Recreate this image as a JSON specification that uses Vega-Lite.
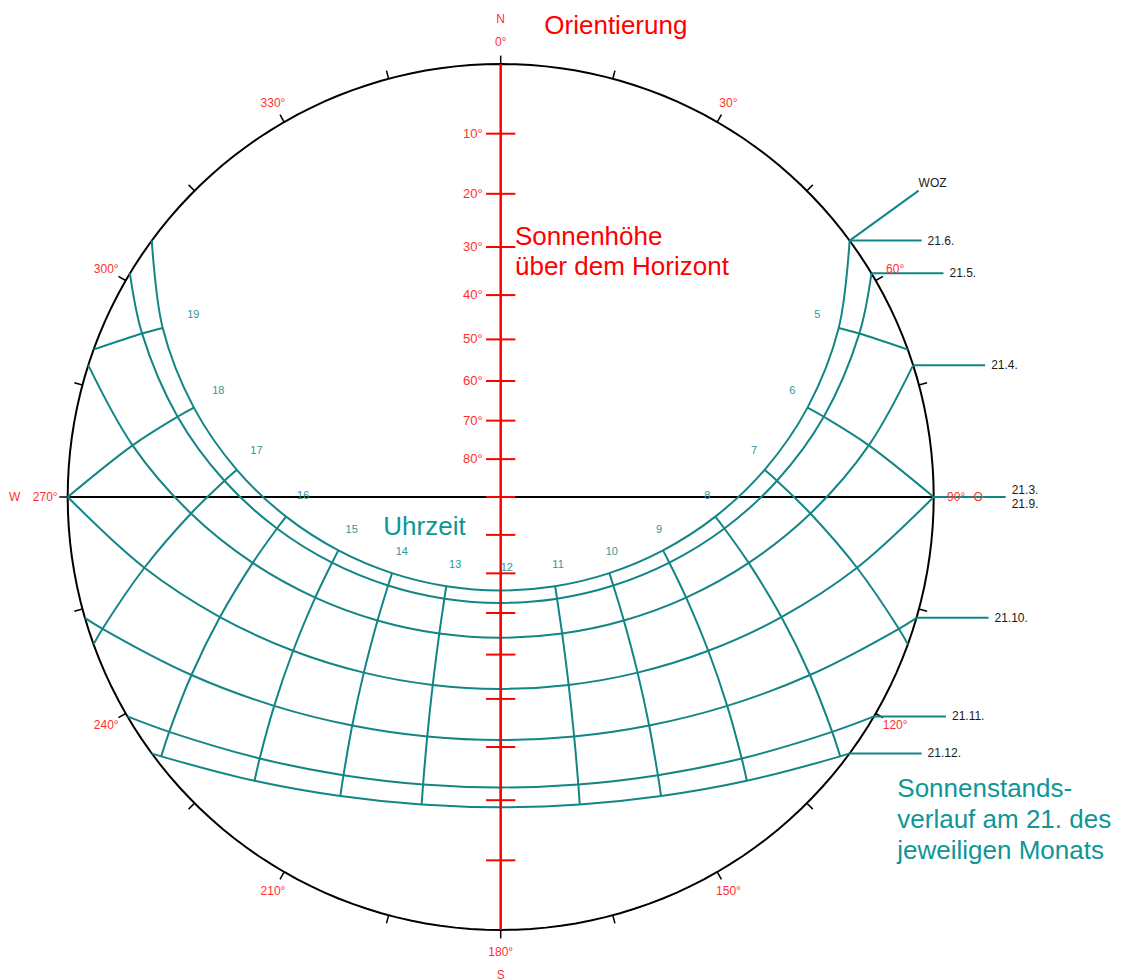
{
  "$schema": "https://vega.github.io/schema/vega-lite/v6.json",
  "width": 1121,
  "height": 979,
  "padding": 0,
  "autosize": "none",
  "background": "white",
  "config": {"view": {"stroke": null}, "font": "Liberation Sans"},
  "projection": {"type": "stereographic", "scale": 433, "translate": [500.7, 497], "rotate": [180, -90, 0], "reflectX": true, "clipAngle": 90},
  "datasets": {
    "sun": [
      {"date": "21.6.", "dec": 23.44, "hour": 4.1, "az": 53.69, "alt": 0},
      {"date": "21.6.", "dec": 23.44, "hour": 5, "az": 63.43, "alt": 7.77},
      {"date": "21.6.", "dec": 23.44, "hour": 6, "az": 73.76, "alt": 17.14},
      {"date": "21.6.", "dec": 23.44, "hour": 7, "az": 84.12, "alt": 27.01},
      {"date": "21.6.", "dec": 23.44, "hour": 8, "az": 95.23, "alt": 37.08},
      {"date": "21.6.", "dec": 23.44, "hour": 9, "az": 108.21, "alt": 46.93},
      {"date": "21.6.", "dec": 23.44, "hour": 10, "az": 125.02, "alt": 55.93},
      {"date": "21.6.", "dec": 23.44, "hour": 11, "az": 148.62, "alt": 62.87},
      {"date": "21.6.", "dec": 23.44, "hour": 12, "az": 180, "alt": 65.64},
      {"date": "21.6.", "dec": 23.44, "hour": 13, "az": 211.38, "alt": 62.87},
      {"date": "21.6.", "dec": 23.44, "hour": 14, "az": 234.98, "alt": 55.93},
      {"date": "21.6.", "dec": 23.44, "hour": 15, "az": 251.79, "alt": 46.93},
      {"date": "21.6.", "dec": 23.44, "hour": 16, "az": 264.77, "alt": 37.08},
      {"date": "21.6.", "dec": 23.44, "hour": 17, "az": 275.88, "alt": 27.01},
      {"date": "21.6.", "dec": 23.44, "hour": 18, "az": 286.24, "alt": 17.14},
      {"date": "21.6.", "dec": 23.44, "hour": 19, "az": 296.57, "alt": 7.77},
      {"date": "21.6.", "dec": 23.44, "hour": 19.9, "az": 306.31, "alt": 0},
      {"date": "21.5.", "dec": 20.3, "hour": 4.4, "az": 58.9, "alt": 0},
      {"date": "21.5.", "dec": 20.3, "hour": 5, "az": 65.5, "alt": 5.39},
      {"date": "21.5.", "dec": 20.3, "hour": 6, "az": 76.05, "alt": 14.89},
      {"date": "21.5.", "dec": 20.3, "hour": 7, "az": 86.64, "alt": 24.83},
      {"date": "21.5.", "dec": 20.3, "hour": 8, "az": 98.02, "alt": 34.89},
      {"date": "21.5.", "dec": 20.3, "hour": 9, "az": 111.28, "alt": 44.63},
      {"date": "21.5.", "dec": 20.3, "hour": 10, "az": 128.18, "alt": 53.38},
      {"date": "21.5.", "dec": 20.3, "hour": 11, "az": 151.01, "alt": 59.93},
      {"date": "21.5.", "dec": 20.3, "hour": 12, "az": 180, "alt": 62.51},
      {"date": "21.5.", "dec": 20.3, "hour": 13, "az": 208.99, "alt": 59.93},
      {"date": "21.5.", "dec": 20.3, "hour": 14, "az": 231.82, "alt": 53.38},
      {"date": "21.5.", "dec": 20.3, "hour": 15, "az": 248.72, "alt": 44.63},
      {"date": "21.5.", "dec": 20.3, "hour": 16, "az": 261.98, "alt": 34.89},
      {"date": "21.5.", "dec": 20.3, "hour": 17, "az": 273.36, "alt": 24.83},
      {"date": "21.5.", "dec": 20.3, "hour": 18, "az": 283.95, "alt": 14.89},
      {"date": "21.5.", "dec": 20.3, "hour": 19, "az": 294.5, "alt": 5.39},
      {"date": "21.5.", "dec": 20.3, "hour": 19.6, "az": 301.1, "alt": 0},
      {"date": "21.4.", "dec": 11.8, "hour": 5.11, "az": 72.27, "alt": 0},
      {"date": "21.4.", "dec": 11.8, "hour": 6, "az": 82.01, "alt": 8.71},
      {"date": "21.4.", "dec": 11.8, "hour": 7, "az": 93.05, "alt": 18.77},
      {"date": "21.4.", "dec": 11.8, "hour": 8, "az": 104.88, "alt": 28.7},
      {"date": "21.4.", "dec": 11.8, "hour": 9, "az": 118.47, "alt": 38.05},
      {"date": "21.4.", "dec": 11.8, "hour": 10, "az": 135.07, "alt": 46.13},
      {"date": "21.4.", "dec": 11.8, "hour": 11, "az": 155.78, "alt": 51.87},
      {"date": "21.4.", "dec": 11.8, "hour": 12, "az": 180, "alt": 54.0},
      {"date": "21.4.", "dec": 11.8, "hour": 13, "az": 204.22, "alt": 51.87},
      {"date": "21.4.", "dec": 11.8, "hour": 14, "az": 224.93, "alt": 46.13},
      {"date": "21.4.", "dec": 11.8, "hour": 15, "az": 241.53, "alt": 38.05},
      {"date": "21.4.", "dec": 11.8, "hour": 16, "az": 255.12, "alt": 28.7},
      {"date": "21.4.", "dec": 11.8, "hour": 17, "az": 266.95, "alt": 18.77},
      {"date": "21.4.", "dec": 11.8, "hour": 18, "az": 277.99, "alt": 8.71},
      {"date": "21.4.", "dec": 11.8, "hour": 18.89, "az": 287.73, "alt": 0},
      {"date": "21.3.", "dec": 0, "hour": 6, "az": 90, "alt": 0},
      {"date": "21.3.", "dec": 0, "hour": 7, "az": 101.23, "alt": 10.01},
      {"date": "21.3.", "dec": 0, "hour": 8, "az": 113.16, "alt": 19.62},
      {"date": "21.3.", "dec": 0, "hour": 9, "az": 126.53, "alt": 28.36},
      {"date": "21.3.", "dec": 0, "hour": 10, "az": 142.07, "alt": 35.57},
      {"date": "21.3.", "dec": 0, "hour": 11, "az": 160.12, "alt": 40.45},
      {"date": "21.3.", "dec": 0, "hour": 12, "az": 180, "alt": 42.2},
      {"date": "21.3.", "dec": 0, "hour": 13, "az": 199.88, "alt": 40.45},
      {"date": "21.3.", "dec": 0, "hour": 14, "az": 217.93, "alt": 35.57},
      {"date": "21.3.", "dec": 0, "hour": 15, "az": 233.47, "alt": 28.36},
      {"date": "21.3.", "dec": 0, "hour": 16, "az": 246.84, "alt": 19.62},
      {"date": "21.3.", "dec": 0, "hour": 17, "az": 258.77, "alt": 10.01},
      {"date": "21.3.", "dec": 0, "hour": 18, "az": 270, "alt": 0},
      {"date": "21.10.", "dec": -10.8, "hour": 6.81, "az": 106.2, "alt": 0},
      {"date": "21.10.", "dec": -10.8, "hour": 7, "az": 108.32, "alt": 1.83},
      {"date": "21.10.", "dec": -10.8, "hour": 8, "az": 119.93, "alt": 11.02},
      {"date": "21.10.", "dec": -10.8, "hour": 9, "az": 132.68, "alt": 19.13},
      {"date": "21.10.", "dec": -10.8, "hour": 10, "az": 146.99, "alt": 25.63},
      {"date": "21.10.", "dec": -10.8, "hour": 11, "az": 162.95, "alt": 29.9},
      {"date": "21.10.", "dec": -10.8, "hour": 12, "az": 180, "alt": 31.4},
      {"date": "21.10.", "dec": -10.8, "hour": 13, "az": 197.05, "alt": 29.9},
      {"date": "21.10.", "dec": -10.8, "hour": 14, "az": 213.01, "alt": 25.63},
      {"date": "21.10.", "dec": -10.8, "hour": 15, "az": 227.32, "alt": 19.13},
      {"date": "21.10.", "dec": -10.8, "hour": 16, "az": 240.07, "alt": 11.02},
      {"date": "21.10.", "dec": -10.8, "hour": 17, "az": 251.68, "alt": 1.83},
      {"date": "21.10.", "dec": -10.8, "hour": 17.19, "az": 253.8, "alt": 0},
      {"date": "21.11.", "dec": -19.9, "hour": 7.57, "az": 120.45, "alt": 0},
      {"date": "21.11.", "dec": -19.9, "hour": 8, "az": 125.32, "alt": 3.65},
      {"date": "21.11.", "dec": -19.9, "hour": 9, "az": 137.33, "alt": 11.21},
      {"date": "21.11.", "dec": -19.9, "hour": 10, "az": 150.53, "alt": 17.15},
      {"date": "21.11.", "dec": -19.9, "hour": 11, "az": 164.89, "alt": 20.97},
      {"date": "21.11.", "dec": -19.9, "hour": 12, "az": 180, "alt": 22.3},
      {"date": "21.11.", "dec": -19.9, "hour": 13, "az": 195.11, "alt": 20.97},
      {"date": "21.11.", "dec": -19.9, "hour": 14, "az": 209.47, "alt": 17.15},
      {"date": "21.11.", "dec": -19.9, "hour": 15, "az": 222.67, "alt": 11.21},
      {"date": "21.11.", "dec": -19.9, "hour": 16, "az": 234.68, "alt": 3.65},
      {"date": "21.11.", "dec": -19.9, "hour": 16.43, "az": 239.55, "alt": 0},
      {"date": "21.12.", "dec": -23.44, "hour": 7.9, "az": 126.31, "alt": 0},
      {"date": "21.12.", "dec": -23.44, "hour": 8, "az": 127.38, "alt": 0.77},
      {"date": "21.12.", "dec": -23.44, "hour": 9, "az": 139.06, "alt": 8.11},
      {"date": "21.12.", "dec": -23.44, "hour": 10, "az": 151.8, "alt": 13.83},
      {"date": "21.12.", "dec": -23.44, "hour": 11, "az": 165.58, "alt": 17.49},
      {"date": "21.12.", "dec": -23.44, "hour": 12, "az": 180, "alt": 18.76},
      {"date": "21.12.", "dec": -23.44, "hour": 13, "az": 194.42, "alt": 17.49},
      {"date": "21.12.", "dec": -23.44, "hour": 14, "az": 208.2, "alt": 13.83},
      {"date": "21.12.", "dec": -23.44, "hour": 15, "az": 220.94, "alt": 8.11},
      {"date": "21.12.", "dec": -23.44, "hour": 16, "az": 232.62, "alt": 0.77},
      {"date": "21.12.", "dec": -23.44, "hour": 16.1, "az": 233.69, "alt": 0},
      {"dec": 13.21, "hour": 5, "az": 70.1, "alt": 0},
      {"dec": 13.21, "hour": 19, "az": 289.9, "alt": 0},
      {"dec": -13.21, "hour": 7, "az": 109.9, "alt": 0},
      {"dec": -13.21, "hour": 17, "az": 250.1, "alt": 0}
    ],
    "azticks": [
      {"az": 0}, {"az": 15}, {"az": 30}, {"az": 45}, {"az": 60}, {"az": 75}, {"az": 90}, {"az": 105},
      {"az": 120}, {"az": 135}, {"az": 150}, {"az": 165}, {"az": 180}, {"az": 195}, {"az": 210}, {"az": 225},
      {"az": 240}, {"az": 255}, {"az": 270}, {"az": 285}, {"az": 300}, {"az": 315}, {"az": 330}, {"az": 345}
    ],
    "azlabels": [
      {"az": 0, "label": "0°"}, {"az": 30, "label": "30°"}, {"az": 60, "label": "60°"}, {"az": 90, "label": "90°"},
      {"az": 120, "label": "120°"}, {"az": 150, "label": "150°"}, {"az": 180, "label": "180°"}, {"az": 210, "label": "210°"},
      {"az": 240, "label": "240°"}, {"az": 270, "label": "270°"}, {"az": 300, "label": "300°"}, {"az": 330, "label": "330°"}
    ],
    "compass": [
      {"az": 0, "label": "N"}, {"az": 90, "label": "O"}, {"az": 180, "label": "S"}, {"az": 270, "label": "W"}
    ],
    "altticks": [
      {"az": 0, "alt": 10, "label": "10°"}, {"az": 0, "alt": 20, "label": "20°"}, {"az": 0, "alt": 30, "label": "30°"},
      {"az": 0, "alt": 40, "label": "40°"}, {"az": 0, "alt": 50, "label": "50°"}, {"az": 0, "alt": 60, "label": "60°"},
      {"az": 0, "alt": 70, "label": "70°"}, {"az": 0, "alt": 80, "label": "80°"}, {"az": 0, "alt": 90},
      {"az": 180, "alt": 10}, {"az": 180, "alt": 20}, {"az": 180, "alt": 30}, {"az": 180, "alt": 40},
      {"az": 180, "alt": 50}, {"az": 180, "alt": 60}, {"az": 180, "alt": 70}, {"az": 180, "alt": 80}
    ],
    "hourlabels": [
      {"label": "5", "az": 59.81, "alt": 10.1}, {"label": "6", "az": 69.83, "alt": 19.26},
      {"label": "7", "az": 79.55, "alt": 29.1}, {"label": "8", "az": 89.63, "alt": 39.62},
      {"label": "9", "az": 102.11, "alt": 49.74}, {"label": "10", "az": 117.51, "alt": 59.42},
      {"label": "11", "az": 142.76, "alt": 67.69}, {"label": "12", "az": 180, "alt": 71.3},
      {"label": "13", "az": 217.24, "alt": 67.69}, {"label": "14", "az": 242.49, "alt": 59.42},
      {"label": "15", "az": 257.89, "alt": 49.74}, {"label": "16", "az": 270.37, "alt": 39.62},
      {"label": "17", "az": 280.45, "alt": 29.1}, {"label": "18", "az": 290.17, "alt": 19.26},
      {"label": "19", "az": 300.19, "alt": 10.1}
    ],
    "datelabels": [
      {"label": "21.6.", "az": 53.69}, {"label": "21.5.", "az": 58.9}, {"label": "21.4.", "az": 72.27},
      {"label": "21.3.\n21.9.", "az": 90}, {"label": "21.10.", "az": 106.2}, {"label": "21.11.", "az": 120.45},
      {"label": "21.12.", "az": 126.31}
    ]
  },
  "layer": [
    {
      "data": {"sphere": true},
      "mark": {"type": "geoshape", "filled": false, "fill": null, "stroke": "black", "strokeWidth": 2}
    },
    {
      "data": {"name": "azticks"},
      "mark": {"type": "rule", "color": "black", "strokeWidth": 1.5},
      "encoding": {
        "longitude": {"field": "az", "type": "quantitative"},
        "latitude": {"datum": 0},
        "longitude2": {"field": "az"},
        "latitude2": {"datum": -1.1}
      }
    },
    {
      "data": {"values": [{"from": 90, "to": 270}]},
      "mark": {"type": "rule", "color": "black", "strokeWidth": 2},
      "encoding": {
        "longitude": {"field": "from", "type": "quantitative"},
        "latitude": {"datum": 0},
        "longitude2": {"field": "to"},
        "latitude2": {"datum": 0}
      }
    },
    {
      "data": {"name": "sun"},
      "transform": [{"filter": "isValid(datum.date)"}],
      "mark": {"type": "line", "color": "#138585", "strokeWidth": 2, "interpolate": "catmull-rom"},
      "encoding": {
        "longitude": {"field": "az", "type": "quantitative"},
        "latitude": {"field": "alt", "type": "quantitative"},
        "detail": {"field": "date", "type": "nominal"},
        "order": {"field": "hour", "type": "quantitative"}
      }
    },
    {
      "data": {"name": "sun"},
      "transform": [{"filter": "datum.hour == floor(datum.hour)"}],
      "mark": {"type": "line", "color": "#138585", "strokeWidth": 2, "interpolate": "catmull-rom"},
      "encoding": {
        "longitude": {"field": "az", "type": "quantitative"},
        "latitude": {"field": "alt", "type": "quantitative"},
        "detail": {"field": "hour", "type": "nominal"},
        "order": {"field": "dec", "type": "quantitative", "sort": "descending"}
      }
    },
    {
      "data": {"name": "datelabels"},
      "mark": {"type": "point", "shape": "M0,0H2", "size": 5184, "filled": false, "stroke": "#138585", "strokeWidth": 2, "opacity": 1},
      "encoding": {
        "longitude": {"field": "az", "type": "quantitative"},
        "latitude": {"datum": 0}
      }
    },
    {
      "data": {"values": [{"label": "WOZ", "az": 53.69}]},
      "mark": {"type": "point", "shape": "M0,0L1.917,-1.389", "size": 5184, "filled": false, "stroke": "#138585", "strokeWidth": 2, "opacity": 1},
      "encoding": {
        "longitude": {"field": "az", "type": "quantitative"},
        "latitude": {"datum": 0}
      }
    },
    {
      "data": {"values": [{"from": 0, "to": 180}]},
      "mark": {"type": "rule", "color": "red", "strokeWidth": 2.5},
      "encoding": {
        "longitude": {"field": "from", "type": "quantitative"},
        "latitude": {"datum": 0},
        "longitude2": {"field": "to"},
        "latitude2": {"datum": 0}
      }
    },
    {
      "data": {"name": "altticks"},
      "mark": {"type": "point", "shape": "stroke", "size": 860, "filled": false, "stroke": "red", "strokeWidth": 2, "opacity": 1},
      "encoding": {
        "longitude": {"field": "az", "type": "quantitative"},
        "latitude": {"field": "alt", "type": "quantitative"}
      }
    },
    {
      "data": {"name": "altticks"},
      "transform": [{"filter": "isValid(datum.label)"}],
      "mark": {"type": "text", "align": "right", "baseline": "middle", "dx": -18, "fontSize": 13, "color": "#ff3030", "font": "Liberation Sans"},
      "encoding": {
        "longitude": {"field": "az", "type": "quantitative"},
        "latitude": {"field": "alt", "type": "quantitative"},
        "text": {"field": "label", "type": "nominal"}
      }
    },
    {
      "data": {"name": "azlabels"},
      "mark": {"type": "text", "align": "center", "baseline": "middle", "fontSize": 12, "color": "#ff3030", "font": "Liberation Sans"},
      "encoding": {
        "longitude": {"field": "az", "type": "quantitative"},
        "latitude": {"datum": -2.9},
        "text": {"field": "label", "type": "nominal"}
      }
    },
    {
      "data": {"name": "compass"},
      "transform": [{"filter": "datum.label != 'W'"}],
      "mark": {"type": "text", "align": "center", "baseline": "middle", "fontSize": 12, "color": "#ff3030", "font": "Liberation Sans"},
      "encoding": {
        "longitude": {"field": "az", "type": "quantitative"},
        "latitude": {"datum": -5.6},
        "text": {"field": "label", "type": "nominal"}
      }
    },
    {
      "data": {"name": "compass"},
      "transform": [{"filter": "datum.label == 'W'"}],
      "mark": {"type": "text", "align": "center", "baseline": "middle", "fontSize": 12, "color": "#ff3030", "font": "Liberation Sans"},
      "encoding": {
        "longitude": {"field": "az", "type": "quantitative"},
        "latitude": {"datum": -6.6},
        "text": {"field": "label", "type": "nominal"}
      }
    },
    {
      "data": {"name": "hourlabels"},
      "mark": {"type": "text", "align": "left", "baseline": "middle", "fontSize": 11, "color": "#2f9797", "font": "Liberation Sans"},
      "encoding": {
        "longitude": {"field": "az", "type": "quantitative"},
        "latitude": {"field": "alt", "type": "quantitative"},
        "text": {"field": "label", "type": "nominal"}
      }
    },
    {
      "data": {"name": "datelabels"},
      "transform": [{"filter": "datum.az != 90"}],
      "mark": {"type": "text", "align": "left", "baseline": "middle", "dx": 78, "fontSize": 12, "color": "#1a1a1a", "font": "Liberation Sans"},
      "encoding": {
        "longitude": {"field": "az", "type": "quantitative"},
        "latitude": {"datum": 0},
        "text": {"field": "label", "type": "nominal"}
      }
    },
    {
      "data": {"name": "datelabels"},
      "transform": [{"filter": "datum.az == 90"}],
      "mark": {"type": "text", "align": "left", "baseline": "middle", "dx": 78, "dy": -7, "fontSize": 12, "lineHeight": 14, "lineBreak": "\n", "color": "#1a1a1a", "font": "Liberation Sans"},
      "encoding": {
        "longitude": {"field": "az", "type": "quantitative"},
        "latitude": {"datum": 0},
        "text": {"field": "label", "type": "nominal"}
      }
    },
    {
      "data": {"values": [{"label": "WOZ", "az": 53.69}]},
      "mark": {"type": "text", "align": "left", "baseline": "middle", "dx": 69, "dy": -58, "fontSize": 12, "color": "#1a1a1a", "font": "Liberation Sans"},
      "encoding": {
        "longitude": {"field": "az", "type": "quantitative"},
        "latitude": {"datum": 0},
        "text": {"field": "label", "type": "nominal"}
      }
    },
    {
      "data": {"values": [{"text": "Orientierung", "az": 5.38, "alt": -4.08}]},
      "mark": {"type": "text", "align": "left", "baseline": "alphabetic", "fontSize": 26, "color": "red", "font": "Liberation Sans"},
      "encoding": {
        "longitude": {"field": "az", "type": "quantitative"},
        "latitude": {"field": "alt", "type": "quantitative"},
        "text": {"field": "text", "type": "nominal"}
      }
    },
    {
      "data": {"values": [{"text": "Sonnenhöhe\nüber dem Horizont", "az": 3.0, "alt": 25.56}]},
      "mark": {"type": "text", "align": "left", "baseline": "top", "lineBreak": "\n", "lineHeight": 30, "fontSize": 26, "color": "red", "font": "Liberation Sans"},
      "encoding": {
        "longitude": {"field": "az", "type": "quantitative"},
        "latitude": {"field": "alt", "type": "quantitative"},
        "text": {"field": "text", "type": "nominal"}
      }
    },
    {
      "data": {"values": [{"text": "Uhrzeit", "az": 252.06, "alt": 58.18}]},
      "mark": {"type": "text", "align": "left", "baseline": "alphabetic", "fontSize": 26, "color": "#0f9696", "font": "Liberation Sans"},
      "encoding": {
        "longitude": {"field": "az", "type": "quantitative"},
        "latitude": {"field": "alt", "type": "quantitative"},
        "text": {"field": "text", "type": "nominal"}
      }
    },
    {
      "data": {"values": [{"text": "Sonnenstands-\nverlauf am 21. des\njeweiligen Monats", "az": 125.08, "alt": -6.44}]},
      "mark": {"type": "text", "align": "left", "baseline": "top", "lineBreak": "\n", "lineHeight": 31, "fontSize": 26, "color": "#0f9696", "font": "Liberation Sans"},
      "encoding": {
        "longitude": {"field": "az", "type": "quantitative"},
        "latitude": {"field": "alt", "type": "quantitative"},
        "text": {"field": "text", "type": "nominal"}
      }
    }
  ]
}
